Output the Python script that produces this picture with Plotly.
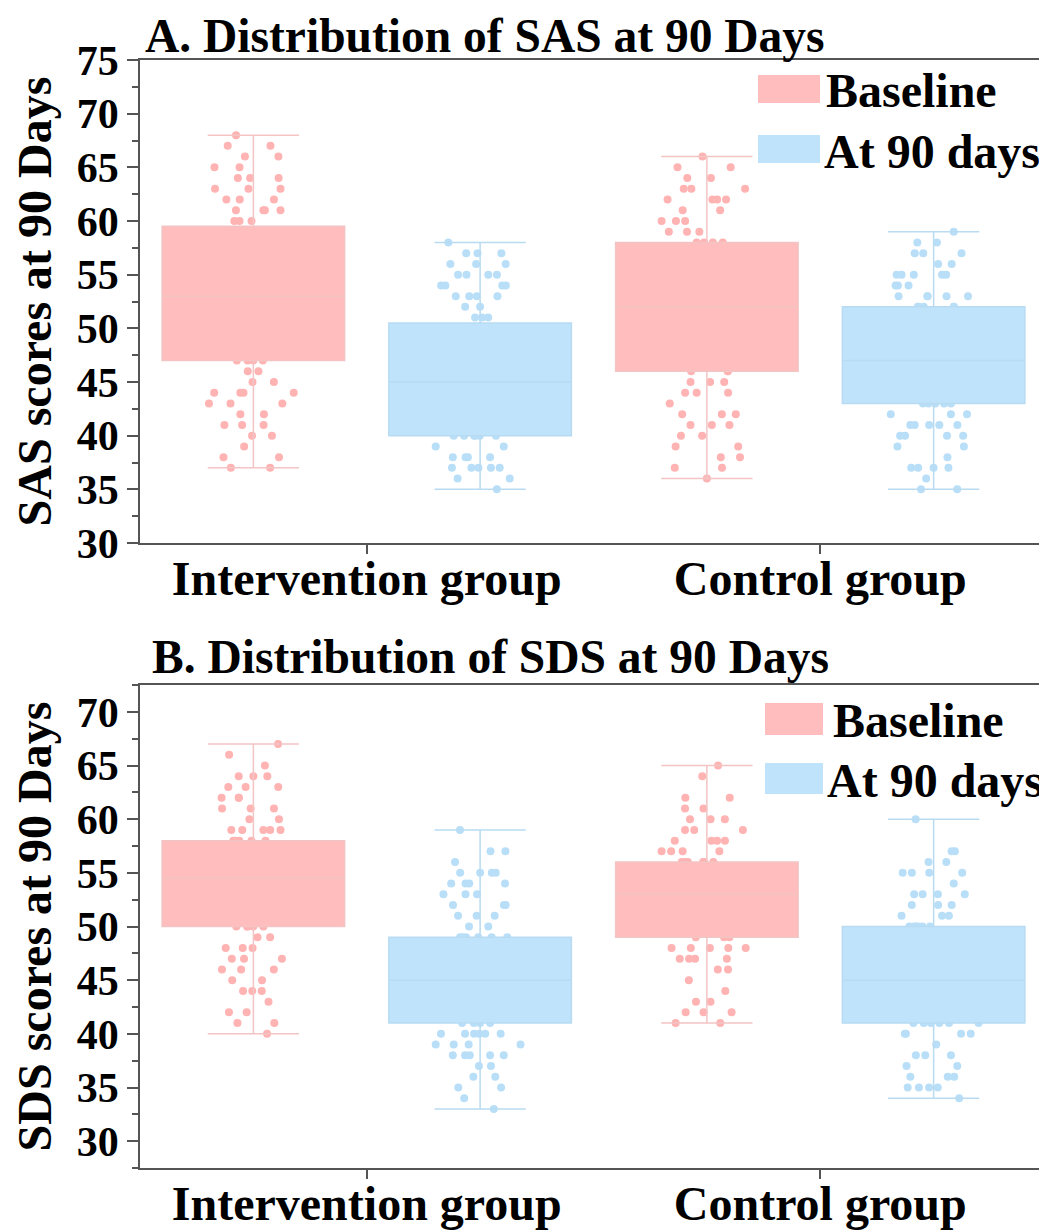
import plotly.graph_objects as go

# ---------------- data ----------------
groups = ["Intervention group", "Control group"]
series_names = ["Baseline", "At 90 days"]

# Panel A: SAS box statistics  [Intervention, Control]
sas_base_min = [37, 36]
sas_base_q1 = [47, 46]
sas_base_med = [53, 52]
sas_base_q3 = [59.5, 58]
sas_base_max = [68, 66]

sas_90_min = [35, 35]
sas_90_q1 = [40, 43]
sas_90_med = [45, 47]
sas_90_q3 = [50.5, 52]
sas_90_max = [58, 59]

# Panel B: SDS box statistics  [Intervention, Control]
sds_base_min = [40, 41]
sds_base_q1 = [50, 49]
sds_base_med = [54.5, 53]
sds_base_q3 = [58, 56]
sds_base_max = [67, 65]

sds_90_min = [33, 34]
sds_90_q1 = [41, 41]
sds_90_med = [45, 45]
sds_90_q3 = [49, 50]
sds_90_max = [59, 60]

# visible individual scores
sas_int_base_pts = [68, 67, 67, 66, 66, 65, 65, 64, 64, 64, 63, 63, 63, 62, 62, 62,
                    61, 61, 61, 61, 60, 60, 60, 47, 47, 47, 47, 46, 46, 45, 45,
                    44, 44, 44, 44, 43, 43, 43, 42, 42, 41, 41, 41, 40, 40, 39,
                    38, 38, 37, 37]
sas_int_90_pts = [58, 57, 57, 57, 56, 56, 56, 55, 55, 55, 55, 54, 54, 54, 54,
                  53, 53, 53, 53, 52, 52, 51, 51, 51, 40, 40, 40, 40, 40, 40,
                  39, 39, 38, 38, 38, 38, 37, 37, 37, 37, 37, 36, 36, 35]
sas_ctl_base_pts = [66, 65, 65, 64, 64, 63, 63, 63, 62, 62, 62, 62, 61, 61, 60, 60, 60,
                    59, 59, 59, 58, 58, 58, 58, 46, 46, 46, 45, 45, 45, 44, 44, 44,
                    43, 42, 42, 42, 41, 41, 41, 40, 40, 39, 39, 38, 38, 37, 37, 36]
sas_ctl_90_pts = [59, 58, 58, 57, 57, 57, 56, 56, 55, 55, 55, 55, 55, 54, 54, 54,
                  53, 53, 53, 53, 53, 52, 52, 52, 52, 52, 43, 43, 43, 43, 43,
                  42, 42, 42, 41, 41, 41, 41, 41, 40, 40, 40, 40, 39, 39, 38,
                  37, 37, 37, 37, 36, 35, 35]

sds_int_base_pts = [67, 66, 65, 64, 64, 64, 63, 63, 63, 62, 62, 62, 61, 61, 61, 60, 60,
                    59, 59, 59, 59, 59, 58, 58, 58, 58, 58, 50, 50, 50, 50, 50,
                    49, 49, 48, 48, 48, 47, 47, 47, 46, 46, 46, 45, 45, 44, 44, 44,
                    43, 42, 42, 41, 41, 40]
sds_int_90_pts = [59, 57, 57, 56, 55, 55, 55, 55, 54, 54, 54, 54, 53, 53, 53,
                  52, 52, 52, 51, 51, 51, 50, 50, 49, 49, 49, 49, 49, 49,
                  41, 41, 41, 41, 40, 40, 40, 40, 40, 40, 39, 39, 39, 39,
                  38, 38, 38, 38, 38, 37, 37, 36, 36, 35, 35, 34, 33]
sds_ctl_base_pts = [65, 64, 62, 62, 61, 61, 60, 60, 60, 59, 59, 59, 58, 58, 58, 58,
                    57, 57, 57, 57, 56, 56, 56, 56, 56, 56, 49, 49, 49,
                    48, 48, 48, 48, 48, 47, 47, 47, 47, 46, 46, 45, 44, 43, 43,
                    42, 42, 42, 41, 41]
sds_ctl_90_pts = [60, 57, 57, 56, 56, 55, 55, 55, 55, 54, 53, 53, 53, 53, 52, 52, 52,
                  51, 51, 51, 50, 50, 50, 50, 50, 50, 41, 41, 41, 41, 41, 41,
                  40, 40, 40, 40, 39, 38, 38, 38, 37, 37, 36, 36, 36,
                  35, 35, 35, 35, 34]

# ---------------- style ----------------
FONT = "Liberation Serif"
PINK_FILL = "#FFBDBD"
PINK_PT = "#FFB3B3"
PINK_LINE = "#F3C4C4"
BLUE_FILL = "#BEE3FA"
BLUE_PT = "#B9DFF8"
BLUE_LINE = "#B8DBF2"
AX = "#555555"

OFF = 8                 # page body margin
W, H = 1047 - OFF, 1232 - OFF
L = 140 - OFF
PW = W - L


def px_x(p):            # page pixel -> paper x
    return (p - OFF - L) / PW


def px_y(p):            # page pixel -> paper y
    return 1 - (p - OFF) / H


fig = go.Figure()


def add_points(vals_int, vals_ctl, color, og, ag, xa, ya):
    xs = [groups[0]] * len(vals_int) + [groups[1]] * len(vals_ctl)
    fig.add_trace(go.Box(
        x=xs, y=vals_int + vals_ctl, boxpoints="all", jitter=0.5, pointpos=0,
        fillcolor="rgba(0,0,0,0)", line=dict(width=0, color="rgba(0,0,0,0)"),
        whiskerwidth=0, marker=dict(color=color, size=8, opacity=1),
        offsetgroup=og, alignmentgroup=ag,
        hoverinfo="skip", showlegend=False, xaxis=xa, yaxis=ya))


def add_box(name, mn, q1, med, q3, mx, fill, line, og, ag, xa, ya):
    fig.add_trace(go.Box(
        name=name, x=groups, q1=q1, median=med, q3=q3, lowerfence=mn, upperfence=mx,
        fillcolor=fill, line=dict(color=line, width=1.5), whiskerwidth=0.5,
        offsetgroup=og, alignmentgroup=ag,
        boxpoints=False, showlegend=False, xaxis=xa, yaxis=ya))


# panel A: points under, boxes over
add_points(sas_int_base_pts, sas_ctl_base_pts, PINK_PT, "base", "A", "x", "y")
add_points(sas_int_90_pts, sas_ctl_90_pts, BLUE_PT, "d90", "A", "x", "y")
add_box(series_names[0], sas_base_min, sas_base_q1, sas_base_med, sas_base_q3, sas_base_max,
        PINK_FILL, PINK_LINE, "base", "A", "x2", "y2")
add_box(series_names[1], sas_90_min, sas_90_q1, sas_90_med, sas_90_q3, sas_90_max,
        BLUE_FILL, BLUE_LINE, "d90", "A", "x2", "y2")

# panel B
add_points(sds_int_base_pts, sds_ctl_base_pts, PINK_PT, "base", "B", "x3", "y3")
add_points(sds_int_90_pts, sds_ctl_90_pts, BLUE_PT, "d90", "B", "x3", "y3")
add_box(series_names[0], sds_base_min, sds_base_q1, sds_base_med, sds_base_q3, sds_base_max,
        PINK_FILL, PINK_LINE, "base", "B", "x4", "y4")
add_box(series_names[1], sds_90_min, sds_90_q1, sds_90_med, sds_90_q3, sds_90_max,
        BLUE_FILL, BLUE_LINE, "d90", "B", "x4", "y4")

tickfont = dict(family=FONT, size=42, color="black", weight="bold")
xtickfont = dict(family=FONT, size=48, color="black", weight="bold")
titlefont = dict(family=FONT, size=47.5, color="black", weight="bold")
ytitlefont = dict(family=FONT, size=48, color="black", weight="bold")
legfont = dict(family=FONT, size=48, color="black", weight="bold")

xbase = dict(type="category", categoryorder="array", categoryarray=groups,
             range=[-0.5, 1.5], showline=True, linecolor=AX, linewidth=1.5, mirror=True,
             ticks="outside", ticklen=9, tickwidth=1.5, tickcolor=AX, ticklabelstandoff=-16,
             showgrid=False, zeroline=False, tickfont=xtickfont, automargin=False)
ybase = dict(showline=True, linecolor=AX, linewidth=1.5, ticks="outside", ticklen=11,
             tickwidth=1.5, tickcolor=AX, dtick=5, tick0=0, showgrid=False, zeroline=False,
             tickfont=tickfont, automargin=False,
             minor=dict(dtick=2.5, tick0=0, ticks="outside", ticklen=6, tickwidth=1.5,
                        tickcolor=AX, showgrid=False))

domA = [px_y(543), px_y(60)]
domB = [px_y(1168), px_y(685)]
overlay = dict(type="category", categoryorder="array", categoryarray=groups,
               range=[-0.5, 1.5], visible=False)

fig.update_layout(
    width=W, height=H, margin=dict(l=L, r=0, t=0, b=0),
    paper_bgcolor="white", plot_bgcolor="white",
    boxmode="group", boxgap=0.0, boxgroupgap=0.195,
    showlegend=False,
    xaxis=dict(xbase, anchor="y", domain=[0, 1]),
    yaxis=dict(ybase, anchor="x", domain=domA, range=[30, 75],
               title=dict(text="SAS scores at 90 Days", font=ytitlefont, standoff=18)),
    xaxis2=dict(overlay, overlaying="x", anchor="y2"),
    yaxis2=dict(range=[30, 75], overlaying="y", anchor="x2", visible=False),
    xaxis3=dict(xbase, anchor="y3", domain=[0, 1]),
    yaxis3=dict(ybase, anchor="x3", domain=domB, range=[27.5, 72.5],
                title=dict(text="SDS scores at 90 Days", font=ytitlefont, standoff=18)),
    xaxis4=dict(overlay, overlaying="x3", anchor="y4"),
    yaxis4=dict(range=[27.5, 72.5], overlaying="y3", anchor="x4", visible=False),
)

# panel titles
fig.add_annotation(text="A. Distribution of SAS at 90 Days", xref="paper", yref="paper",
                   x=px_x(143), y=px_y(8), xanchor="left", yanchor="top",
                   showarrow=False, font=titlefont)
fig.add_annotation(text="B. Distribution of SDS at 90 Days", xref="paper", yref="paper",
                   x=px_x(150), y=px_y(657), xanchor="left", yanchor="middle",
                   showarrow=False, font=titlefont)

# legends (swatches + labels)
legend_items = [
    # (swatch x0, x1, y0, y1, text x, text y, label, color)
    (758, 820, 75, 103, 824, 91, series_names[0], PINK_FILL),
    (758, 820, 135, 163, 822, 151, series_names[1], BLUE_FILL),
    (765, 823, 703, 735, 831, 720, series_names[0], PINK_FILL),
    (765, 823, 763, 794, 825, 780, series_names[1], BLUE_FILL),
]
for x0, x1, y0, y1, tx, ty, label, col in legend_items:
    fig.add_shape(type="rect", xref="paper", yref="paper",
                  x0=px_x(x0), x1=px_x(x1), y0=px_y(y1), y1=px_y(y0),
                  fillcolor=col, line=dict(width=0), layer="above")
    fig.add_annotation(text=label, xref="paper", yref="paper", x=px_x(tx), y=px_y(ty),
                       xanchor="left", yanchor="middle", showarrow=False, font=legfont)

fig.write_html("out.html")
